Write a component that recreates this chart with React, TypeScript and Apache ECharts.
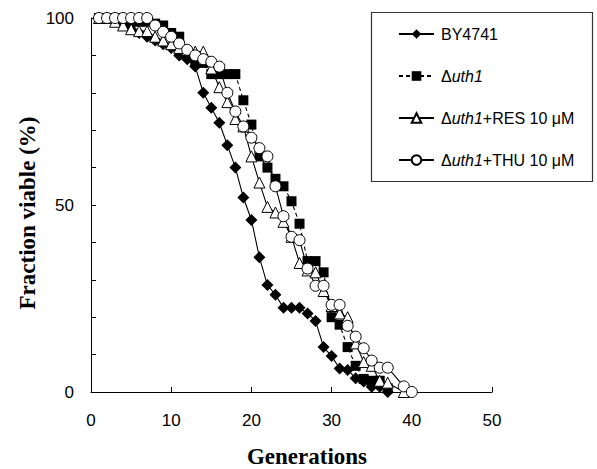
import React, { useEffect, useRef } from "react";
import * as echarts from "echarts";

// ---- data ----
const seriesNames = ["BY4741", "Δuth1", "Δuth1+RES 10 μM", "Δuth1+THU 10 μM"];

const byGens = [1, 2, 3, 4, 5, 6, 7, 8, 9, 10, 11, 12, 13, 14, 15, 16, 17, 18, 19, 20, 21, 22, 23, 24, 25, 26, 27, 28, 29, 30, 31, 32, 33, 34, 35, 36, 37];
const byValues = [100, 100, 100, 98.5, 97, 96, 95, 94, 93, 92, 90, 89, 87, 80, 76, 72, 66, 60, 52, 46, 36, 28.6, 26, 22.5, 22.5, 22.5, 21, 19, 12, 9.6, 6.3, 5.9, 3.7, 2.8, 1.4, 1.4, 0];

const uthGens = [1, 2, 3, 4, 5, 6, 7, 8, 9, 10, 11, 12, 13, 14, 15, 16, 17, 18, 19, 20, 21, 22, 23, 24, 25, 26, 27, 28, 29, 30, 31, 32, 33, 34, 35, 36, 37];
const uthValues = [100, 100, 100, 99, 99, 99, 99, 98.5, 98, 96, 95, 90, 88.5, 88, 85, 85, 85, 85, 78, 71.5, 63, 60, 57, 55, 51, 45, 35, 35, 32, 20, 18, 12, 7, 3.5, 3, 3, 1];

const resGens = [1, 2, 3, 4, 5, 6, 7, 8, 9, 10, 11, 12, 13, 14, 15, 16, 17, 18, 19, 20, 21, 22, 23, 24, 25, 26, 27, 28, 29, 30, 31, 32, 33, 34, 35, 36, 37, 39];
const resValues = [100, 100, 99, 98, 97, 96.5, 96.5, 95, 94, 93, 92, 91.5, 91, 91, 86.5, 81.5, 77.5, 73, 71, 63, 56, 49.5, 48, 45.5, 41.5, 34.5, 32.5, 32, 27, 23, 21, 20, 13, 8, 7, 3, 2.5, 0];

const thuGens = [1, 2, 3, 4, 5, 6, 7, 8, 9, 10, 11, 12, 13, 14, 15, 16, 17, 18, 19, 20, 21, 22, 23, 24, 25, 26, 27, 28, 29, 30, 31, 32, 33, 34, 35, 36, 37, 39, 40];
const thuValues = [100, 100, 100, 100, 100, 100, 100, 98, 96.3, 95, 93.2, 91.5, 90, 89, 88.3, 87, 80, 75, 71, 68, 65.2, 63, 55, 47, 41.5, 40.6, 33, 28.4, 28.4, 23.3, 23.3, 17.7, 14.8, 11.7, 8.4, 6.5, 6.5, 1.5, 0];

const xTicks = [0, 10, 20, 30, 40, 50];
const yLabelValues = [0, 50, 100];

const zip = (g: number[], v: number[]) => g.map((x, i) => [x, v[i]]);

export default function App() {
  const ref = useRef<HTMLDivElement>(null);

  useEffect(() => {
    if (!ref.current) return;
    const chart = echarts.init(ref.current, undefined, { renderer: "svg" });

    const lineBase = { color: "#000", width: 1.1 };
    const openItem = { color: "#fff", borderColor: "#000", borderWidth: 1 };
    const filledItem = { color: "#000", borderColor: "#000", borderWidth: 0 };

    chart.setOption({
      animation: false,
      backgroundColor: "#fff",
      grid: { left: 91, right: 105, top: 18, bottom: 77, containLabel: false },
      xAxis: {
        type: "value",
        min: xTicks[0],
        max: xTicks[xTicks.length - 1],
        interval: 10,
        axisLine: { show: true, lineStyle: { color: "#000", width: 1 } },
        axisTick: { show: true, inside: true, length: 5, lineStyle: { color: "#000" } },
        axisLabel: { color: "#000", fontSize: 17, fontFamily: "Liberation Sans", margin: 20 },
        splitLine: { show: false },
      },
      yAxis: {
        type: "value",
        min: 0,
        max: 100,
        interval: 10,
        axisLine: { show: true, lineStyle: { color: "#000", width: 1 } },
        axisTick: { show: true, inside: true, length: 5, lineStyle: { color: "#000" } },
        axisLabel: {
          color: "#000",
          fontSize: 17,
          fontFamily: "Liberation Sans",
          margin: 17,
          formatter: (v: number) => (yLabelValues.includes(v) ? String(v) : ""),
        },
        splitLine: { show: false },
      },
      legend: {
        orient: "vertical",
        left: 393,
        top: 21,
        itemWidth: 35,
        itemHeight: 12,
        itemGap: 26,
        textStyle: {
          color: "#000",
          fontSize: 16,
          fontFamily: "Liberation Sans",
          lineHeight: 16,
          padding: [0, 0, 0, 2],
          rich: {
            it: { fontStyle: "italic", fontSize: 16, fontFamily: "Liberation Sans", lineHeight: 16 },
          },
        },
        formatter: (name: string) => name.replace("uth1", "{it|uth1}"),
        data: seriesNames,
      },
      graphic: [
        {
          type: "rect",
          shape: { x: 371.5, y: 12.5, width: 221, height: 169 },
          style: { fill: "none", stroke: "#333", lineWidth: 1.2 },
          z: 10,
        },
        {
          type: "text",
          x: 27,
          y: 213,
          rotation: Math.PI / 2,
          style: {
            text: "Fraction viable (%)",
            font: "bold 23px 'Liberation Serif'",
            fill: "#000",
            align: "center",
            verticalAlign: "middle",
          },
        },
        {
          type: "text",
          x: 307,
          y: 456,
          style: {
            text: "Generations",
            font: "bold 23px 'Liberation Serif'",
            fill: "#000",
            align: "center",
            verticalAlign: "middle",
          },
        },
      ],
      series: [
        {
          name: seriesNames[0],
          type: "line",
          data: zip(byGens, byValues),
          symbol: "diamond",
          symbolSize: 12,
          lineStyle: { ...lineBase },
          itemStyle: filledItem,
        },
        {
          name: seriesNames[1],
          type: "line",
          data: zip(uthGens, uthValues),
          symbol: "rect",
          symbolSize: 10,
          lineStyle: { ...lineBase, type: [4, 3] },
          itemStyle: filledItem,
        },
        {
          name: seriesNames[2],
          type: "line",
          data: zip(resGens, resValues),
          symbol: "triangle",
          symbolSize: 11,
          lineStyle: { ...lineBase },
          itemStyle: openItem,
        },
        {
          name: seriesNames[3],
          type: "line",
          data: zip(thuGens, thuValues),
          symbol: "circle",
          symbolSize: 11,
          lineStyle: { ...lineBase },
          itemStyle: openItem,
        },
      ],
    });

    return () => chart.dispose();
  }, []);

  return (
    <div
      ref={ref}
      style={{ position: "absolute", left: 0, top: 0, width: 597, height: 469 }}
    />
  );
}
